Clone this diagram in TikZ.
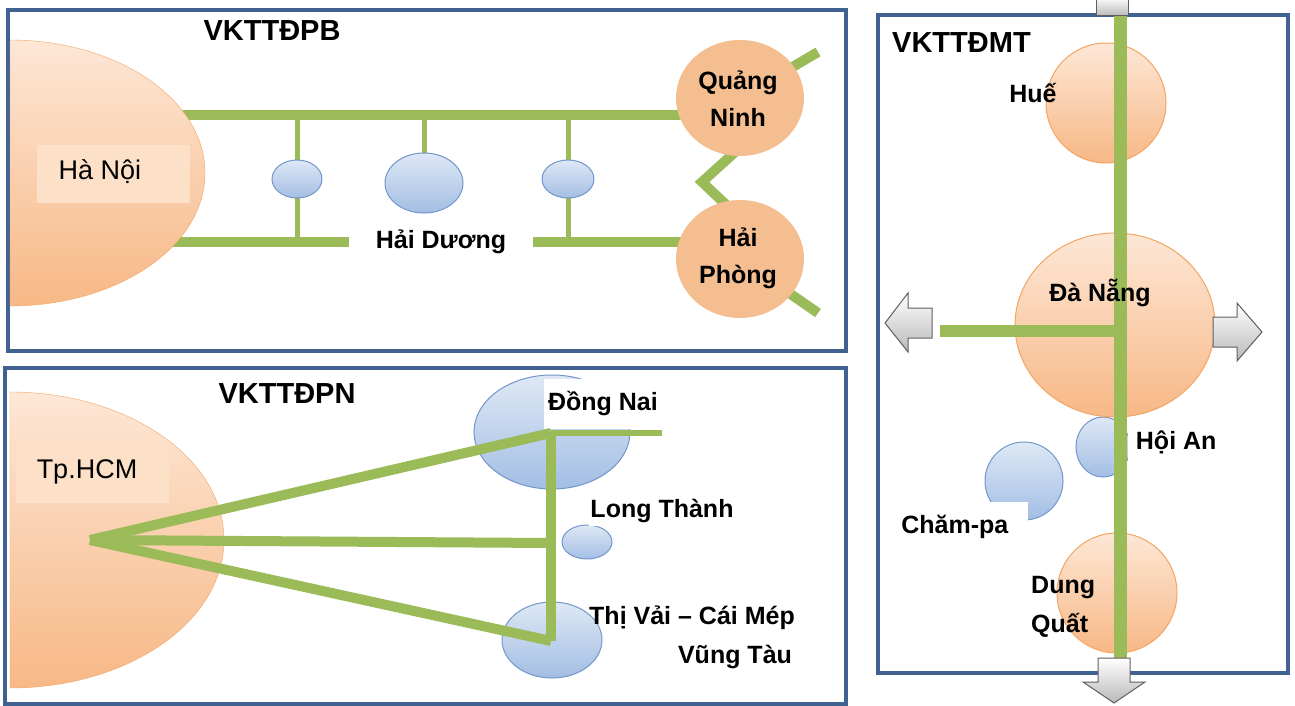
\documentclass[tikz,border=0pt]{standalone}
\usepackage{fontspec}
\setmainfont{Liberation Sans}
\usepackage{tikz}
\usetikzlibrary{shapes.geometric}
\definecolor{framec}{RGB}{65,98,145}
\definecolor{greenc}{RGB}{155,187,89}
\definecolor{orsolid}{RGB}{244,190,145}
\definecolor{ortop}{RGB}{253,231,214}
\definecolor{orbot}{RGB}{247,184,134}
\definecolor{oredge}{RGB}{243,165,100}
\definecolor{bltop}{RGB}{222,232,245}
\definecolor{blbot}{RGB}{163,190,228}
\definecolor{bledge}{RGB}{115,150,205}
\definecolor{arrgray}{RGB}{185,185,185}
\definecolor{arredge}{RGB}{95,95,95}
\definecolor{boxc}{RGB}{253,224,200}
\pgfdeclarelayer{bg}
\pgfsetlayers{bg,main}

\begin{document}
\begin{tikzpicture}[x=1pt, y=-1pt,
	frame/.style={draw=framec, line width=4},
	gline/.style={draw=greenc, line width=10},
	tline/.style={draw=greenc, line width=5},
	ocirc/.style={ellipse, draw=oredge, line width=1, top color=ortop, bottom color=orbot, inner sep=0pt},
	osolid/.style={ellipse, fill=orsolid, inner sep=0pt},
	bcirc/.style={ellipse, draw=bledge, line width=1, top color=bltop, bottom color=blbot, inner sep=0pt},
	blockarr/.style={draw=arredge, line width=1, top color=white, bottom color=arrgray},
	ttl/.style={font=\fontsize{29}{32}\selectfont\bfseries, inner sep=0pt},
	lbl/.style={font=\fontsize{25}{37}\selectfont\bfseries, align=center, inner sep=0pt},
	wlbl/.style={lbl, fill=white},
	city/.style={font=\fontsize{27}{30}\selectfont, inner sep=0pt},
	tbox/.style={fill=boxc, inner sep=0pt}]
	\useasboundingbox (0,0) rectangle (1295,706);
	
	% Northern zone
	\draw[frame] (8,10) rectangle (846,351);
	\node[ttl] (tpb) at (272,31) {VKTTĐPB};
	\path[draw=oredge, top color=ortop, bottom color=orbot] (10,40) arc[start angle=-90, end angle=90, x radius=195, y radius=133] -- cycle;
	\node[tbox, minimum width=153, minimum height=58] (hnbox) at (113,174) {};
	\node[city] (hn) at (100,172) {Hà Nội};
	\coordinate (ht) at (150,115);
	\coordinate (hb) at (150,242);
	\node[osolid, minimum width=128, minimum height=116] (qn) at (740,98) {};
	\node[lbl] (qnl) at (738,99) {Quảng\\Ninh};
	\node[osolid, minimum width=128, minimum height=118] (hp) at (740,259) {};
	\node[lbl] (hpl) at (738,258) {Hải\\Phòng};
	\foreach \n/\x/\y/\w/\h in {e1/297/179/50/38, e2/424/183/78/60, e3/568/179/52/38}
		\node[bcirc, minimum width=\w, minimum height=\h] (\n) at (\x,\y) {};
	\node[wlbl, minimum width=184, minimum height=30] (hd) at (441,242) {Hải Dương};
	\coordinate (qne) at (818,52);
	\coordinate (hpe) at (818,313);
	\coordinate (z1) at (745,143);
	\coordinate (z2) at (702,182);
	\coordinate (z3) at (738,216);
	\begin{pgfonlayer}{bg}
		\fill[white] (0,0) rectangle (1295,706);
		\draw[gline] (ht) -- (ht -| qn.center);
		\draw[gline] (hb) -- (hb -| hp.center);
		\draw[tline] (ht -| e1) -- (hb -| e1);
		\draw[tline] (ht -| e2) -- (e2);
		\draw[tline] (ht -| e3) -- (hb -| e3);
		\draw[gline] (qn.center) -- (qne);
		\draw[gline] (z1) -- (z2) -- (z3);
		\draw[gline] (hp.center) -- (hpe);
	\end{pgfonlayer}
	
	% Southern zone
	\draw[frame] (5,368) rectangle (846,704);
	\node[ttl] (tpn) at (287,394) {VKTTĐPN};
	\path[draw=oredge, top color=ortop, bottom color=orbot] (10,392) arc[start angle=-90, end angle=90, x radius=214, y radius=148] -- cycle;
	\node[tbox, minimum width=153, minimum height=56] (hcmbox) at (92,475) {};
	\node[city] (hcm) at (87,472) {Tp.HCM};
	\node[bcirc, minimum width=156, minimum height=114] (dn) at (552,432) {};
	\node[bcirc, minimum width=50, minimum height=34] (lt) at (587,542) {};
	\node[bcirc, minimum width=100, minimum height=76] (tv) at (552,640) {};
	\node[wlbl, minimum width=119, minimum height=50] (dnl) at (603,404) {Đồng Nai};
	\node[wlbl, minimum width=146, minimum height=30] (ltl) at (662,511) {Long Thành};
	\node[lbl] (tvl) at (692,618) {Thị Vải – Cái Mép};
	\node[lbl] (vtl) at (735,657) {Vũng Tàu};
	\coordinate (hc) at (90,540);
	\coordinate (j1) at (551,433);
	\coordinate (j2) at (551,543);
	\coordinate (j3) at (551,641);
	\coordinate (dne) at (662,433);
	\draw[gline] (hc) -- (j1);
	\draw[gline] (hc) -- (j2);
	\draw[gline] (hc) -- (j3);
	\draw[gline] (j1) -- (j3);
	\draw[gline, line width=6] (j1) -- (dne);
	
	% Central zone
	\draw[frame] (878,15) rectangle (1288,673);
	\node[ttl, anchor=west] (tmt) at (892,43) {VKTTĐMT};
	\node[ocirc, minimum size=120] (hue) at (1106,103) {};
	\node[bcirc, minimum width=54, minimum height=60] (ha) at (1103,447) {};
	\node[bcirc, minimum size=78] (cp) at (1024,481) {};
	\node[wlbl, anchor=west, minimum width=96, minimum height=62] (hal) at (1128,442) {Hội An};
	\node[wlbl, anchor=north east, minimum width=146, minimum height=50] (cpl) at (1028,502) {Chăm-pa};
	\node[ocirc, minimum width=200, minimum height=184] (dng) at (1115,325) {};
	\node[ocirc, minimum size=120] (dq) at (1117,593) {};
	\coordinate (mtop) at (1120,0);
	\coordinate (mbot) at (1120,658);
	\coordinate (dnw) at (940,331);
	\draw[gline, line width=13] (mtop) -- (mbot);
	\draw[gline, line width=12] (dnw) -- (dnw -| mtop);
	% Block arrows
	\path[blockarr] (1096,-3) -- (1096,16) -- (1128,16) -- (1128,-3);
	\path[blockarr] (1098,658) -- (1130,658) -- (1130,682) -- (1145,682) -- (1114,703) -- (1083,682) -- (1098,682) -- cycle;
	\path[blockarr] (932,308) -- (908,308) -- (908,293) -- (885,323) -- (908,352) -- (908,338) -- (932,338) -- cycle;
	\path[blockarr] (1213,317) -- (1237,317) -- (1237,303) -- (1262,332) -- (1237,361) -- (1237,347) -- (1213,347) -- cycle;
	\node[lbl] (huel) at (1033,93) {Huế};
	\node[lbl] (dngl) at (1100,293) {Đà Nẵng};
	\node[lbl, align=left, anchor=west, font=\fontsize{25}{39}\selectfont\bfseries] (dql) at (1031,607) {Dung\\Quất};
\end{tikzpicture}
\end{document}
